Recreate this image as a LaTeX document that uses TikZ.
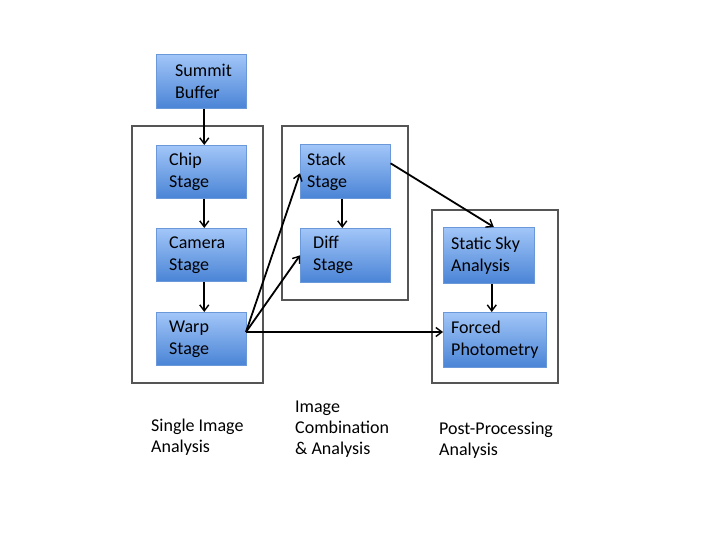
\documentclass[tikz,border=0pt]{standalone}
\usepackage{fontspec}
\setmainfont{Carlito}
\usetikzlibrary{arrows.meta,calc}
\definecolor{boxtop}{HTML}{A2C6F8}
\definecolor{boxbot}{HTML}{4A84D6}
\definecolor{boxline}{HTML}{6A98D8}
\definecolor{frameline}{HTML}{555555}
\tikzset{
  box/.style={draw=boxline, line width=0.6pt, top color=boxtop, bottom color=boxbot,
    anchor=north west, inner sep=0pt, minimum width=#1},
  frame/.style={draw=frameline, line width=1.3pt},
  lbl/.style={anchor=west, align=left, inner sep=0pt, font=\fontsize{18}{22}\selectfont},
  captxt/.style={anchor=north west, align=left, inner sep=0pt, font=\fontsize{18}{21}\selectfont},
  arr/.style={-{Straight Barb[length=6pt,width=9pt,line width=1.4pt]}, line width=1.8pt, black}
}
\begin{document}
\begin{tikzpicture}[x=1pt,y=-1pt]
\useasboundingbox (0,0) rectangle (720,540);
% frames
\draw[frame] (132,126) rectangle (263,383);
\draw[frame] (282,126) rectangle (408,300);
\draw[frame] (432,210) rectangle (558,383);
% boxes
\node[box=90pt, minimum height=54pt] (summit) at (156,54) {};
\node[box=90pt, minimum height=53pt] (chip) at (156,145) {};
\node[box=90pt, minimum height=53pt] (camera) at (156,228) {};
\node[box=90pt, minimum height=53pt] (warp) at (156,312) {};
\node[box=90pt, minimum height=54pt] (stack) at (300,144) {};
\node[box=90pt, minimum height=54pt] (diff) at (300,228) {};
\node[box=91pt, minimum height=56pt] (static) at (443,227) {};
\node[box=103pt, minimum height=55pt] (forced) at (443,312) {};
% box texts
\node[lbl] (tsummit) at ([xshift=19pt]summit.west) {Summit\\Buffer};
\node[lbl] (tchip) at ([xshift=13pt]chip.west) {Chip\\Stage};
\node[lbl] (tcamera) at ([xshift=13pt]camera.west) {Camera\\Stage};
\node[lbl] (twarp) at ([xshift=13pt]warp.west) {Warp\\Stage};
\node[lbl] (tstack) at ([xshift=7pt]stack.west) {Stack\\Stage};
\node[lbl] (tdiff) at ([xshift=13pt]diff.west) {Diff\\Stage};
\node[lbl] (tstatic) at ([xshift=8pt]static.west) {Static Sky\\Analysis};
\node[lbl] (tforced) at ([xshift=8pt]forced.west) {Forced\\Photometry};
% captions
\node[captxt] (c1) at (151,419) {Single Image\\Analysis};
\node[captxt] (c2) at (295,401) {Image\\Combination\\\& Analysis};
\node[captxt] (c3) at (439,422) {Post-Processing\\Analysis};
% arrows
\coordinate (wout) at (246,332);
\draw[arr] ([xshift=3pt]summit.south) -- ([xshift=3pt]chip.north);
\draw[arr] ([xshift=3pt]chip.south) -- ([xshift=3pt]camera.north);
\draw[arr] ([xshift=3pt]camera.south) -- ([xshift=3pt]warp.north);
\draw[arr] ([xshift=-3pt]stack.south) -- ([xshift=-3pt]diff.north);
\draw[arr] ([xshift=3pt]static.south) -- ([xshift=3pt]static.south |- forced.north);
\draw[arr] (wout) -- ([yshift=-2pt]stack.west);
\draw[arr] (wout) -- (diff.west);
\draw[arr] (wout) -- (forced.west |- wout);
\draw[arr] ([yshift=8pt]stack.east) -- ([xshift=5pt]static.north);
\end{tikzpicture}
\end{document}
